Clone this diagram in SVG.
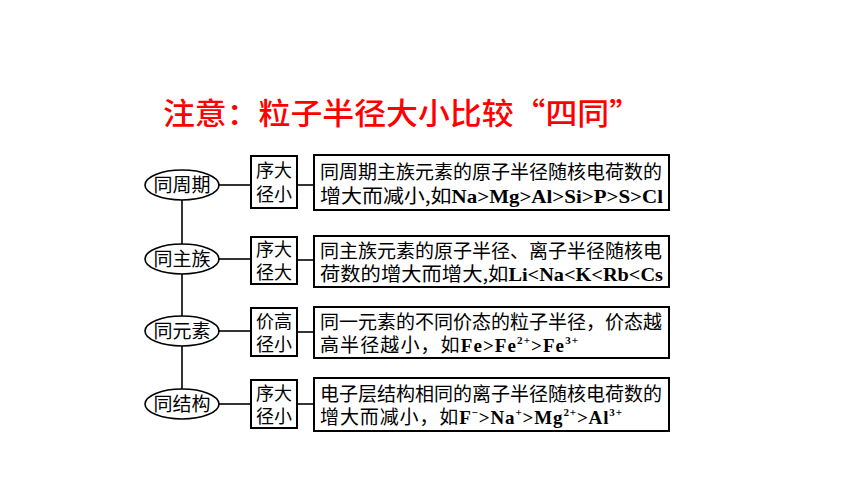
<svg xmlns="http://www.w3.org/2000/svg" width="860" height="484" viewBox="0 0 860 484">
<style>
.cj{font-family:"Noto Sans CJK SC","Noto Sans",sans-serif;font-size:19px;fill:#000}
.sm{font-family:"Noto Sans CJK SC","Noto Sans",sans-serif;font-size:18px;fill:#000}
.lt{font-family:"Liberation Serif",serif;font-weight:bold}
.sup{font-family:"Liberation Serif",serif;font-weight:bold;font-size:11px}
.box{fill:#fff;stroke:#000;stroke-width:2}
.ell{fill:#fff;stroke:#000;stroke-width:1.6}
.ln{stroke:#000;stroke-width:1.6;fill:none}
.title{font-family:"Noto Sans CJK SC",sans-serif;font-size:30px;font-weight:500;fill:#ff0000}
</style>
<rect width="860" height="484" fill="#fff"/>
<text class="title" x="163" y="124" textLength="478" lengthAdjust="spacingAndGlyphs">注意：粒子半径大小比较“四同”</text>
<g id="connectors">
<line class="ln" x1="182" y1="200" x2="182" y2="389"/>
<line class="ln" x1="219" y1="185" x2="251" y2="185"/>
<line class="ln" x1="297" y1="185" x2="314" y2="185"/>
<line class="ln" x1="219" y1="259" x2="251" y2="259"/>
<line class="ln" x1="297" y1="260" x2="314" y2="260"/>
<line class="ln" x1="219" y1="331" x2="251" y2="331"/>
<line class="ln" x1="297" y1="332" x2="314" y2="332"/>
<line class="ln" x1="219" y1="404" x2="251" y2="404"/>
<line class="ln" x1="297" y1="404" x2="314" y2="404"/>
</g>
<g id="n1">
<ellipse class="ell" cx="182" cy="185" rx="37" ry="15"/>
<text class="cj" x="182" y="192" text-anchor="middle">同周期</text>
</g>
<g id="n2">
<ellipse class="ell" cx="182" cy="259" rx="37" ry="15"/>
<text class="cj" x="182" y="266" text-anchor="middle">同主族</text>
</g>
<g id="n3">
<ellipse class="ell" cx="182" cy="331" rx="37" ry="15"/>
<text class="cj" x="182" y="338" text-anchor="middle">同元素</text>
</g>
<g id="n4">
<ellipse class="ell" cx="182" cy="404" rx="37" ry="15"/>
<text class="cj" x="182" y="411" text-anchor="middle">同结构</text>
</g>
<g id="s1">
<rect class="box" x="251" y="156" width="46" height="52"/>
<text class="sm" x="274" y="177" text-anchor="middle">序大</text>
<text class="sm" x="274" y="201" text-anchor="middle">径小</text>
</g>
<g id="s2">
<rect class="box" x="251" y="237" width="46" height="47"/>
<text class="sm" x="274" y="256" text-anchor="middle">序大</text>
<text class="sm" x="274" y="279" text-anchor="middle">径大</text>
</g>
<g id="s3">
<rect class="box" x="251" y="308" width="46" height="48"/>
<text class="sm" x="274" y="328" text-anchor="middle">价高</text>
<text class="sm" x="274" y="351" text-anchor="middle">径小</text>
</g>
<g id="s4">
<rect class="box" x="251" y="380" width="46" height="48"/>
<text class="sm" x="274" y="400" text-anchor="middle">序大</text>
<text class="sm" x="274" y="423" text-anchor="middle">径小</text>
</g>
<g id="b1">
<rect class="box" x="314" y="155" width="355" height="55"/>
<text class="cj" x="320" y="179" textLength="342" lengthAdjust="spacingAndGlyphs">同周期主族元素的原子半径随核电荷数的</text>
<text class="cj" x="320" y="203" textLength="343" lengthAdjust="spacingAndGlyphs">增大而减小,如<tspan class="lt">Na&gt;Mg&gt;Al&gt;Si&gt;P&gt;S&gt;Cl</tspan></text>
</g>
<g id="b2">
<rect class="box" x="314" y="236" width="355" height="51"/>
<text class="cj" x="320" y="258" textLength="342" lengthAdjust="spacingAndGlyphs">同主族元素的原子半径、离子半径随核电</text>
<text class="cj" x="320" y="281" textLength="343" lengthAdjust="spacingAndGlyphs">荷数的增大而增大,如<tspan class="lt">Li&lt;Na&lt;K&lt;Rb&lt;Cs</tspan></text>
</g>
<g id="b3">
<rect class="box" x="314" y="307" width="355" height="51"/>
<text class="cj" x="320" y="329" textLength="342" lengthAdjust="spacingAndGlyphs">同一元素的不同价态的粒子半径，价态越</text>
<text class="cj" x="320" y="352" textLength="258" lengthAdjust="spacing">高半径越小，如<tspan class="lt">Fe&gt;Fe</tspan><tspan class="sup" dy="-8">2+</tspan><tspan class="lt" dy="8">&gt;Fe</tspan><tspan class="sup" dy="-8">3+</tspan></text>
</g>
<g id="b4">
<rect class="box" x="314" y="378" width="355" height="53"/>
<text class="cj" x="320" y="401" textLength="342" lengthAdjust="spacingAndGlyphs">电子层结构相同的离子半径随核电荷数的</text>
<text class="cj" x="320" y="424" textLength="302" lengthAdjust="spacing">增大而减小，如<tspan class="lt">F</tspan><tspan class="sup" dy="-8">−</tspan><tspan class="lt" dy="8">&gt;Na</tspan><tspan class="sup" dy="-8">+</tspan><tspan class="lt" dy="8">&gt;Mg</tspan><tspan class="sup" dy="-8">2+</tspan><tspan class="lt" dy="8">&gt;Al</tspan><tspan class="sup" dy="-8">3+</tspan></text>
</g>
</svg>
